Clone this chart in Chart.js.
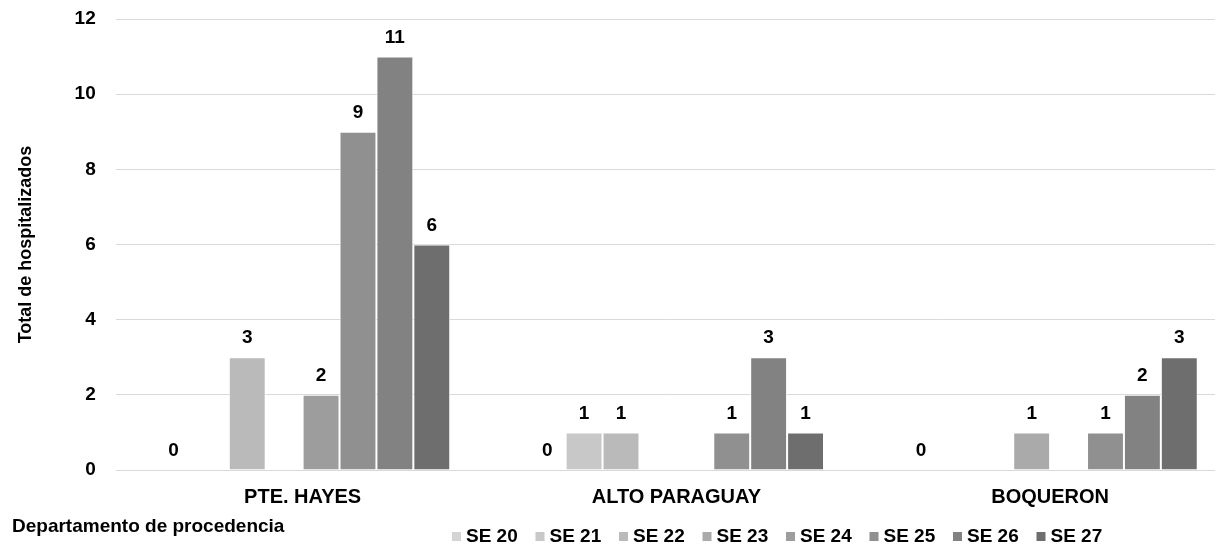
<!DOCTYPE html>
<html>
<head>
<meta charset="utf-8">
<script src="https://cdn.jsdelivr.net/npm/chart.js@4.4.1/dist/chart.umd.min.js"></script>
<style>
    html, body { margin: 0; padding: 0; background: #fff; }
    #chart { display: block; }
</style>
</head>
<body>
<canvas id="chart" width="1224" height="546"></canvas>
<script>
// Chart data
const departamentos = ['PTE. HAYES', 'ALTO PARAGUAY', 'BOQUERON'];
const semanas = ['SE 20', 'SE 21', 'SE 22', 'SE 23', 'SE 24', 'SE 25', 'SE 26', 'SE 27'];
const se20 = [0, 0, 0];
const se21 = [null, 1, null];
const se22 = [3, 1, null];
const se23 = [null, null, 1];
const se24 = [2, null, null];
const se25 = [9, 1, 1];
const se26 = [11, 3, 2];
const se27 = [6, 1, 3];
const yTicks = [0, 2, 4, 6, 8, 10, 12];

const seriesValues = [se20, se21, se22, se23, se24, se25, se26, se27];
const grays = ['#d4d4d4', '#c8c8c8', '#bababa', '#aaaaaa', '#9d9d9d', '#909090', '#828282', '#6e6e6e'];

const FONT_FAMILY = 'Arial, "Liberation Sans", sans-serif';

// The category axis in the reference runs a bit past the gridlines on the right
const X_AXIS_OVERHANG = 22;

/**
 * Stretch the category scale to the right after layout
 */
const stretchX = {
    id: 'stretchX',
    afterLayout(chart) {
        const x = chart.scales.x;
        x.right += X_AXIS_OVERHANG;
        x.width += X_AXIS_OVERHANG;
        x.configure();
    }
};

/**
 * Value labels above each bar
 */
const valueLabels = {
    id: 'valueLabels',
    afterDatasetsDraw(chart) {
        const ctx = chart.ctx;
        ctx.save();
        ctx.font = 'bold 19px ' + FONT_FAMILY;
        ctx.fillStyle = '#000';
        ctx.textAlign = 'center';
        ctx.textBaseline = 'middle';
        chart.data.datasets.forEach((ds, i) => {
            const meta = chart.getDatasetMeta(i);
            meta.data.forEach((bar, j) => {
                const v = ds.data[j];
                if (v === null || v === undefined) return;
                ctx.fillText(String(v), bar.x, bar.y - 19);
            });
        });
        ctx.restore();
    }
};

/**
 * Bottom legend row and x axis title, placed like the reference
 */
const bottomLegend = {
    id: 'bottomLegend',
    afterDraw(chart) {
        const ctx = chart.ctx;
        ctx.save();

        // X axis title, bottom left
        ctx.font = 'bold 19px ' + FONT_FAMILY;
        ctx.fillStyle = '#000';
        ctx.textAlign = 'left';
        ctx.textBaseline = 'middle';
        ctx.fillText('Departamento de procedencia', 12, 527);

        // Legend items
        const startX = 452;
        const step = 83.5;
        const y = 537;
        chart.data.datasets.forEach((ds, i) => {
            const x = startX + i * step;
            ctx.fillStyle = ds.backgroundColor;
            ctx.fillRect(x, y - 5, 9, 9);
            ctx.fillStyle = '#000';
            ctx.fillText(ds.label, x + 14, y);
        });
        ctx.restore();
    }
};

const datasets = semanas.map((label, i) => ({
    label: label,
    data: seriesValues[i],
    backgroundColor: grays[i],
    borderColor: '#ffffff',
    borderWidth: 1,
    barPercentage: 1,
    categoryPercentage: 0.79
}));

new Chart(document.getElementById('chart').getContext('2d'), {
    type: 'bar',
    data: {
        labels: departamentos,
        datasets: datasets
    },
    options: {
        responsive: false,
        animation: false,
        layout: {
            padding: { top: 19, right: 9, bottom: 22, left: 15 }
        },
        plugins: {
            legend: { display: false },
            tooltip: { enabled: false }
        },
        scales: {
            x: {
                grid: { display: false, drawTicks: false },
                border: { display: false },
                ticks: {
                    color: '#000',
                    padding: 15,
                    font: { family: FONT_FAMILY, size: 20, weight: 'bold' }
                }
            },
            y: {
                min: yTicks[0],
                max: yTicks[yTicks.length - 1],
                grid: {
                    color: '#d9d9d9',
                    lineWidth: 1,
                    drawTicks: true,
                    tickLength: 20,
                    tickColor: 'rgba(0,0,0,0)'
                },
                border: { display: false },
                afterBuildTicks(scale) {
                    scale.ticks = yTicks.map(v => ({ value: v }));
                },
                ticks: {
                    color: '#000',
                    padding: 0,
                    font: { family: FONT_FAMILY, size: 19, weight: 'bold' }
                },
                title: {
                    display: true,
                    text: 'Total de hospitalizados',
                    color: '#000',
                    padding: { top: 0, bottom: 38 },
                    font: { family: FONT_FAMILY, size: 18, weight: 'bold' }
                }
            }
        }
    },
    plugins: [stretchX, valueLabels, bottomLegend]
});
</script>
</body>
</html>
